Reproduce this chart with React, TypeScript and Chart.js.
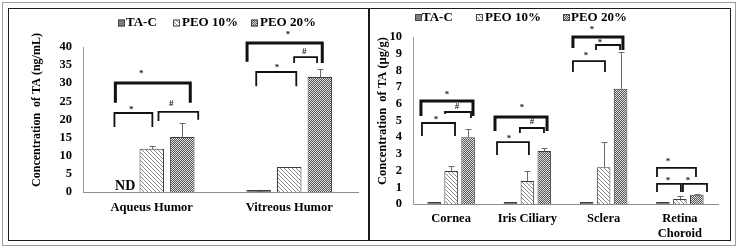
import React, { useEffect, useRef } from 'react';
import { Chart, registerables } from 'chart.js';

Chart.register(...registerables);

const FONT = "'Liberation Serif', 'Times New Roman', serif";

// ---------- data ----------
const seriesNames = ['TA-C', 'PEO 10%', 'PEO 20%'];

const leftCategories = ['Aqueus Humor', 'Vitreous Humor'];
const leftTAC = [null, 0.2];
const leftTACsd = [0, 0.1];
const leftPEO10 = [11.9, 6.9];
const leftPEO10sd = [0.8, 0];
const leftPEO20 = [15.2, 31.7];
const leftPEO20sd = [3.8, 2.2];
const leftYMax = 40;
const leftYStep = 5;
const leftYTitle = 'Concentration  of TA (ng/mL)';
const leftNotDetected = [{ dataset: 0, index: 0, text: 'ND' }];

const rightCategories = ['Cornea', 'Iris Ciliary', 'Sclera', ['Retina', 'Choroid']];
const rightTAC = [0.02, 0.07, 0.02, 0.02];
const rightTACsd = [0, 0, 0, 0];
const rightPEO10 = [1.98, 1.38, 2.2, 0.3];
const rightPEO10sd = [0.3, 0.6, 1.5, 0.2];
const rightPEO20 = [4.0, 3.17, 6.9, 0.55];
const rightPEO20sd = [0.5, 0.18, 2.2, 0.07];
const rightYMax = 10;
const rightYStep = 1;
const rightYTitle = 'Concentration  of TA (µg/g)';

// significance brackets: x1/x2/tx in bar-slot units from group centre, y values in axis units
const leftBrackets = [
  { cat: 0, x1: -1.19, x2: 1.26, y: 30.1, l1: 24.6, l2: 24.6, text: '*', tx: -0.34, ty: 33.1, heavy: true },
  { cat: 0, x1: -1.22, x2: 0.02, y: 21.8, l1: 17.9, l2: 17.9, text: '*', tx: -0.67, ty: 23.4, heavy: false },
  { cat: 0, x1: 0.22, x2: 1.52, y: 22.1, l1: 19.6, l2: 19.9, text: '#', tx: 0.64, ty: 24.3, heavy: false },
  { cat: 1, x1: -1.38, x2: 1.08, y: 41.1, l1: 35.9, l2: 35.6, text: '*', tx: -0.04, ty: 43.9, heavy: true },
  { cat: 1, x1: 0.16, x2: 0.91, y: 37.2, l1: 35.6, l2: 35.6, text: '#', tx: 0.49, ty: 38.6, heavy: false },
  { cat: 1, x1: -1.08, x2: 0.23, y: 33.1, l1: 29.2, l2: 29.2, text: '*', tx: -0.4, ty: 34.8, heavy: false },
];

const rightBrackets = [
  { cat: 0, x1: -1.78, x2: 1.29, y: 6.17, l1: 5.27, l2: 5.27, text: '*', tx: -0.24, ty: 6.65, heavy: true },
  { cat: 0, x1: -0.36, x2: 1.17, y: 5.51, l1: 5.39, l2: 5.15, text: '#', tx: 0.35, ty: 5.81, heavy: false },
  { cat: 0, x1: -1.72, x2: 0.23, y: 4.85, l1: 4.07, l2: 4.07, text: '*', tx: -0.89, ty: 5.15, heavy: false },
  { cat: 1, x1: -1.91, x2: 1.16, y: 5.21, l1: 4.37, l2: 4.37, text: '*', tx: -0.32, ty: 5.87, heavy: true },
  { cat: 1, x1: -0.44, x2: 0.98, y: 4.55, l1: 4.25, l2: 4.25, text: '#', tx: 0.27, ty: 4.91, heavy: false },
  { cat: 1, x1: -1.79, x2: 0.09, y: 3.71, l1: 2.93, l2: 2.93, text: '*', tx: -1.09, ty: 4.01, heavy: false },
  { cat: 2, x1: -1.81, x2: 1.14, y: 10.0, l1: 9.34, l2: 9.22, text: '*', tx: -0.68, ty: 10.54, heavy: true },
  { cat: 2, x1: -0.45, x2: 0.97, y: 9.52, l1: 9.22, l2: 9.22, text: '*', tx: -0.21, ty: 9.76, heavy: false },
  { cat: 2, x1: -1.81, x2: 0.08, y: 8.56, l1: 7.9, l2: 7.9, text: '*', tx: -1.04, ty: 8.98, heavy: false },
  { cat: 3, x1: -1.35, x2: 0.95, y: 2.16, l1: 1.62, l2: 1.62, text: '*', tx: -0.7, ty: 2.63, heavy: false },
  { cat: 3, x1: -1.35, x2: 0.06, y: 1.2, l1: 0.72, l2: 0.72, text: '*', tx: -0.7, ty: 1.5, heavy: false },
  { cat: 3, x1: 0.18, x2: 1.6, y: 1.2, l1: 0.72, l2: 0.72, text: '*', tx: 0.48, ty: 1.5, heavy: false },
];

// ---------- patterns ----------
function makeHatch(): CanvasPattern | string {
  const c = document.createElement('canvas');
  c.width = 4; c.height = 4;
  const g = c.getContext('2d');
  if (!g) return '#ddd';
  g.fillStyle = '#ffffff';
  g.fillRect(0, 0, 4, 4);
  g.fillStyle = '#8a8a8a';
  for (let i = 0; i < 4; i++) g.fillRect(i, i, 1, 1);
  return g.createPattern(c, 'repeat') || '#ddd';
}

function makeDots(): CanvasPattern | string {
  const c = document.createElement('canvas');
  c.width = 2; c.height = 2;
  const g = c.getContext('2d');
  if (!g) return '#999';
  g.fillStyle = '#555555';
  g.fillRect(0, 0, 2, 2);
  g.fillStyle = '#e0e0e0';
  g.fillRect(0, 0, 1, 1);
  g.fillRect(1, 1, 1, 1);
  return g.createPattern(c, 'repeat') || '#999';
}

type PanelOpts = {
  sds: number[][];
  brackets: typeof leftBrackets;
  legendBoxes: number[];
  legendTexts: number[];
  legendY: number;
  legendFont: number;
  titleX: number;
  titleY: number;
  title: string;
  titleFont: number;
  nd: { dataset: number; index: number; text: string }[];
  fills: (CanvasPattern | string)[];
};

function overlayPlugin(o: PanelOpts) {
  return {
    id: 'overlay',
    afterDraw(chart: any) {
      const ctx: CanvasRenderingContext2D = chart.ctx;
      const ys = chart.scales.y;
      const m1 = chart.getDatasetMeta(1);
      const m2 = chart.getDatasetMeta(2);
      ctx.save();
      // error bars
      o.sds.forEach((sdArr, di) => {
        const meta = chart.getDatasetMeta(di);
        const vals = chart.data.datasets[di].data;
        sdArr.forEach((sd, i) => {
          const v = vals[i];
          if (v == null || !sd) return;
          const bx = Math.round(meta.data[i].x) + 0.5;
          const yt = ys.getPixelForValue(v);
          const ye = Math.round(ys.getPixelForValue(v + sd)) + 0.5;
          ctx.strokeStyle = '#6a6a6a';
          ctx.lineWidth = 1;
          ctx.beginPath();
          ctx.moveTo(bx, yt);
          ctx.lineTo(bx, ye);
          ctx.moveTo(bx - 3, ye);
          ctx.lineTo(bx + 3, ye);
          ctx.stroke();
        });
      });
      // brackets
      o.brackets.forEach((b) => {
        const c = m1.data[b.cat].x;
        const slot = m2.data[b.cat].x - c;
        const px1 = c + b.x1 * slot;
        const px2 = c + b.x2 * slot;
        const py = ys.getPixelForValue(b.y);
        ctx.strokeStyle = '#111';
        ctx.lineWidth = b.heavy ? 3 : 1.8;
        ctx.lineCap = 'butt';
        ctx.lineJoin = 'miter';
        ctx.beginPath();
        ctx.moveTo(px1, ys.getPixelForValue(b.l1));
        ctx.lineTo(px1, py);
        ctx.lineTo(px2, py);
        ctx.lineTo(px2, ys.getPixelForValue(b.l2));
        ctx.stroke();
        ctx.fillStyle = '#222';
        ctx.font = `bold 9px ${FONT}`;
        ctx.textAlign = 'center';
        ctx.textBaseline = 'middle';
        const ty = ys.getPixelForValue(b.ty) + (b.text === '*' ? 2 : 0);
        ctx.fillText(b.text, c + b.tx * slot, ty);
      });
      // ND marks
      o.nd.forEach((n) => {
        const meta = chart.getDatasetMeta(n.dataset);
        const bx = meta.data[n.index].x;
        ctx.fillStyle = '#000';
        ctx.font = `bold 14px ${FONT}`;
        ctx.textAlign = 'center';
        ctx.textBaseline = 'alphabetic';
        ctx.fillText(n.text, bx + 4, ys.getPixelForValue(0) - 2);
      });
      // legend
      seriesNames.forEach((name, i) => {
        const bx = o.legendBoxes[i];
        const by = o.legendY - 3.5;
        ctx.fillStyle = o.fills[i] as any;
        ctx.fillRect(bx, by, 7, 7);
        ctx.strokeStyle = '#444';
        ctx.lineWidth = 1;
        ctx.strokeRect(bx + 0.5, by + 0.5, 6, 6);
        ctx.fillStyle = '#000';
        ctx.font = `bold ${o.legendFont}px ${FONT}`;
        ctx.textAlign = 'left';
        ctx.textBaseline = 'middle';
        ctx.fillText(name, o.legendTexts[i], o.legendY);
      });
      // y title
      ctx.translate(o.titleX, o.titleY);
      ctx.rotate(-Math.PI / 2);
      ctx.fillStyle = '#000';
      ctx.font = `bold ${o.titleFont}px ${FONT}`;
      ctx.textAlign = 'center';
      ctx.textBaseline = 'middle';
      ctx.fillText(o.title, 0, 0);
      ctx.restore();
    },
  };
}

function buildChart(
  canvas: HTMLCanvasElement,
  labels: any[],
  series: (number | null)[][],
  yMax: number,
  yStep: number,
  pad: { top: number; right: number },
  yWidth: number,
  xHeight: number,
  tickPadX: number,
  o: Omit<PanelOpts, 'fills'>,
) {
  const fills = ['#7f7f7f', makeHatch(), makeDots()];
  const opts: PanelOpts = { ...o, fills };
  return new Chart(canvas, {
    type: 'bar',
    data: {
      labels,
      datasets: series.map((d, i) => ({
        label: seriesNames[i],
        data: d,
        backgroundColor: fills[i] as any,
        borderColor: '#3c3c3c',
        borderWidth: 1,
        minBarLength: i === 0 ? 2 : 0,
        categoryPercentage: 0.667,
        barPercentage: 0.8,
      })),
    },
    options: {
      animation: false,
      responsive: false,
      devicePixelRatio: 1,
      layout: { padding: { left: 0, top: pad.top, right: pad.right, bottom: 0 } },
      plugins: { legend: { display: false }, tooltip: { enabled: false }, title: { display: false } },
      scales: {
        x: {
          grid: { display: false, drawTicks: false },
          border: { display: true, color: '#8c8c8c', width: 1 },
          ticks: {
            color: '#000',
            font: { family: FONT, size: 12.5, weight: 'bold', lineHeight: 1.2 },
            padding: tickPadX,
            maxRotation: 0,
            autoSkip: false,
          },
          afterFit: (s: any) => { s.height = xHeight; },
        },
        y: {
          min: 0,
          max: yMax,
          grid: { display: false, drawTicks: false },
          border: { display: true, color: '#9a9a9a', width: 1 },
          ticks: {
            stepSize: yStep,
            autoSkip: false,
            color: '#000',
            font: { family: FONT, size: 12.5, weight: 'bold' },
            padding: 11,
          },
          afterFit: (s: any) => { s.width = yWidth; },
        },
      },
    } as any,
    plugins: [overlayPlugin(opts)],
  });
}

export default function App() {
  const leftRef = useRef<HTMLCanvasElement>(null);
  const rightRef = useRef<HTMLCanvasElement>(null);

  useEffect(() => {
    if (!leftRef.current || !rightRef.current) return;
    const left = buildChart(
      leftRef.current,
      leftCategories,
      [leftTAC, leftPEO10, leftPEO20],
      leftYMax,
      leftYStep,
      { top: 39, right: 10 },
      75,
      48,
      8,
      {
        sds: [leftTACsd, leftPEO10sd, leftPEO20sd],
        brackets: leftBrackets,
        legendBoxes: [110, 165, 243],
        legendTexts: [118, 174, 252],
        legendY: 15,
        legendFont: 13,
        titleX: 29,
        titleY: 102,
        title: leftYTitle,
        titleFont: 12,
        nd: leftNotDetected,
      },
    );
    const right = buildChart(
      rightRef.current,
      rightCategories,
      [rightTAC, rightPEO10, rightPEO20],
      rightYMax,
      rightYStep,
      { top: 29, right: 12 },
      45,
      36,
      7,
      {
        sds: [rightTACsd, rightPEO10sd, rightPEO20sd],
        brackets: rightBrackets,
        legendBoxes: [47, 108, 195],
        legendTexts: [54, 117, 203],
        legendY: 9.5,
        legendFont: 13,
        titleX: 15,
        titleY: 103,
        title: rightYTitle,
        titleFont: 12.5,
        nd: [],
      },
    );
    return () => {
      left.destroy();
      right.destroy();
    };
  }, []);

  return (
    <div style={{ position: 'fixed', left: 0, top: 0, width: 737, height: 250, background: '#fff' }}>
      <canvas ref={leftRef} width={360} height={232} style={{ position: 'absolute', left: 8, top: 8 }} />
      <canvas ref={rightRef} width={362} height={232} style={{ position: 'absolute', left: 368, top: 8 }} />
      <div style={{ position: 'absolute', left: 2, top: 2, width: 734, height: 244, boxSizing: 'border-box', border: '1px solid #9c9c9c', pointerEvents: 'none' }} />
      <div style={{ position: 'absolute', left: 8, top: 8, width: 361, height: 233, boxSizing: 'border-box', border: '1px solid #1a1a1a', pointerEvents: 'none' }} />
      <div style={{ position: 'absolute', left: 369, top: 8, width: 362, height: 233, boxSizing: 'border-box', border: '1px solid #1a1a1a', pointerEvents: 'none' }} />
    </div>
  );
}
